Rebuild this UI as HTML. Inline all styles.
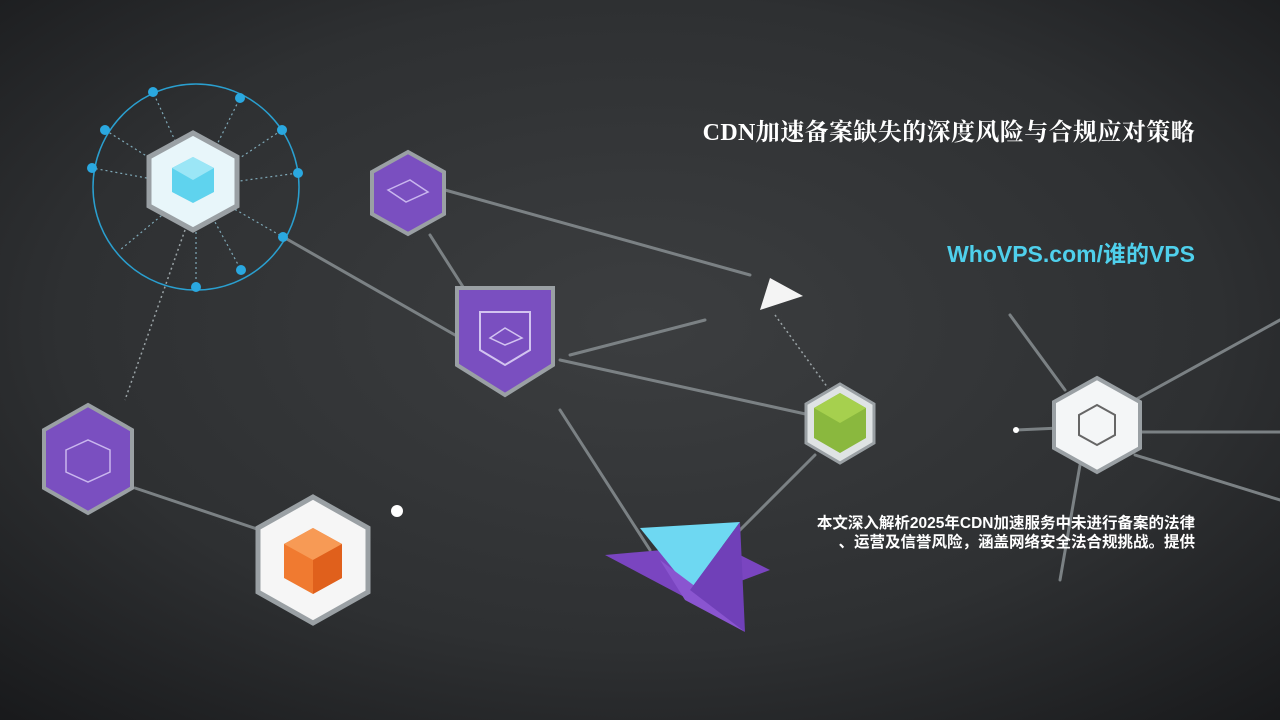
<!DOCTYPE html>
<html><head><meta charset="utf-8"><style>
html,body{margin:0;padding:0;width:1280px;height:720px;overflow:hidden;background:#2a2b2d}
svg{position:absolute;left:0;top:0}
.t{position:absolute;right:85px;white-space:nowrap;text-align:right}
</style></head><body>
<svg width="1280" height="720" viewBox="0 0 1280 720">
<defs>
<radialGradient id="bg" cx="50%" cy="45%" r="75%">
<stop offset="0" stop-color="#3c3e40"/><stop offset="0.6" stop-color="#2e3032"/><stop offset="1" stop-color="#18191b"/>
</radialGradient>
</defs>
<rect width="1280" height="720" fill="url(#bg)"/>
<g stroke="#7b8184" stroke-width="3" fill="none" stroke-linecap="round">
<line x1="285" y1="238" x2="455" y2="335"/>
<line x1="430" y1="235" x2="465" y2="290"/>
<line x1="445" y1="190" x2="750" y2="275"/>
<line x1="570" y1="355" x2="705" y2="320"/>
<line x1="560" y1="360" x2="810" y2="415"/>
<line x1="560" y1="410" x2="650" y2="550"/>
<line x1="735" y1="535" x2="815" y2="455"/>
<line x1="135" y1="488" x2="260" y2="530"/>
<line x1="1010" y1="315" x2="1065" y2="390"/>
<line x1="1135" y1="400" x2="1280" y2="320"/>
<line x1="1140" y1="432" x2="1280" y2="432"/>
<line x1="1135" y1="455" x2="1280" y2="500"/>
<line x1="1080" y1="465" x2="1060" y2="580"/>
<line x1="1015" y1="430" x2="1060" y2="428"/>
</g>
<g stroke="#9aa3a6" stroke-width="1.5" stroke-dasharray="2 3" fill="none">
<line x1="185" y1="230" x2="125" y2="400"/>
<line x1="775" y1="315" x2="828" y2="388"/>
</g>
<g>
<circle cx="196" cy="187" r="103" fill="none" stroke="#2a9fcf" stroke-width="1.5"/>
<g stroke="#7fa9b8" stroke-width="1.2" stroke-dasharray="2 3">
<line x1="196" y1="187" x2="153" y2="92"/><line x1="196" y1="187" x2="240" y2="98"/>
<line x1="196" y1="187" x2="282" y2="130"/><line x1="196" y1="187" x2="298" y2="173"/>
<line x1="196" y1="187" x2="283" y2="237"/><line x1="196" y1="187" x2="241" y2="270"/>
<line x1="196" y1="187" x2="196" y2="287"/><line x1="196" y1="187" x2="120" y2="250"/>
<line x1="196" y1="187" x2="92" y2="168"/><line x1="196" y1="187" x2="105" y2="130"/>
</g>
<g fill="#2aa8e0">
<circle cx="153" cy="92" r="5"/><circle cx="240" cy="98" r="5"/><circle cx="282" cy="130" r="5"/>
<circle cx="298" cy="173" r="5"/><circle cx="283" cy="237" r="5"/><circle cx="241" cy="270" r="5"/>
<circle cx="196" cy="287" r="5"/><circle cx="92" cy="168" r="5"/><circle cx="105" cy="130" r="5"/>
</g>
<polygon points="193,133 237,157 237,206 193,230 149,206 149,157" fill="#e8f6fa" stroke="#9aa0a4" stroke-width="5"/>
<polygon points="193,157 214,168 214,192 193,203 172,192 172,168" fill="#5fd3ee"/>
<polygon points="193,157 214,168 193,180 172,168" fill="#9be6f6"/>
</g>
<polygon points="408,152 444,172 444,214 408,234 372,214 372,172" fill="#7a4fc0" stroke="#9aa0a4" stroke-width="4"/>
<polygon points="388,190 410,180 428,192 406,202" fill="none" stroke="#c9b6ee" stroke-width="1.5"/>
<path d="M457,288 L553,288 L553,365 L505,395 L457,365 Z" fill="#7a4fc0" stroke="#9aa0a4" stroke-width="4"/>
<path d="M480,312 L530,312 L530,350 L505,365 L480,350 Z" fill="none" stroke="#d2c3f0" stroke-width="2"/>
<path d="M490,338 L505,328 L522,338 L505,345 Z" fill="none" stroke="#d2c3f0" stroke-width="1.5"/>
<polygon points="88,405 132,430 132,488 88,513 44,488 44,430" fill="#7a4fc0" stroke="#9aa0a4" stroke-width="4"/>
<polygon points="66,450 88,440 110,450 110,472 88,482 66,472" fill="none" stroke="#c9b6ee" stroke-width="1.5"/>
<polygon points="313,497 368,528 368,592 313,623 258,592 258,528" fill="#f6f6f6" stroke="#9aa0a4" stroke-width="5"/>
<polygon points="313,528 342,544 342,578 313,594 284,578 284,544" fill="#f07a30"/>
<polygon points="313,528 342,544 313,560 284,544" fill="#f79a55"/>
<polygon points="313,560 342,544 342,578 313,594" fill="#e0601c"/>
<circle cx="397" cy="511" r="6" fill="#fff"/>
<polygon points="840,384 874,404 874,443 840,463 806,443 806,404" fill="#dfe3e4" stroke="#9aa0a4" stroke-width="3"/>
<polygon points="840,393 866,408 866,438 840,453 814,438 814,408" fill="#8ab83e"/>
<polygon points="840,393 866,408 840,423 814,408" fill="#a6d04e"/>
<polygon points="1097,378 1140,402 1140,448 1097,472 1054,448 1054,402" fill="#f4f6f7" stroke="#9aa0a4" stroke-width="4"/>
<polygon points="1097,405 1115,415 1115,435 1097,445 1079,435 1079,415" fill="none" stroke="#666" stroke-width="2"/>
<circle cx="1016" cy="430" r="3" fill="#fff"/>
<polygon points="770,278 803,296 760,310" fill="#f4f4f4"/>
<polygon points="605,555 690,600 770,570 720,545" fill="#7a45c0"/>
<polygon points="640,528 740,522 690,590" fill="#6ed8f2"/>
<polygon points="660,560 700,590 745,632 685,600" fill="#8a55d0"/>
<polygon points="690,590 740,522 745,632" fill="#7040b8"/>
</svg>
<div class="t" style="top:112px;font:bold 24px 'Liberation Serif','Noto Serif CJK SC',serif;letter-spacing:0.4px;color:#fff">CDN加速备案缺失的深度风险与合规应对策略</div>
<div class="t" style="top:235px;font:bold 23px 'Liberation Sans','Noto Sans CJK SC',sans-serif;color:#4fd0ec">WhoVPS.com/谁的VPS</div>
<div class="t" style="top:514px;font:bold 15.5px/19px 'Liberation Sans','Noto Sans CJK SC',sans-serif;color:#fff">本文深入解析2025年CDN加速服务中未进行备案的法律<br>、运营及信誉风险，涵盖网络安全法合规挑战。提供</div>
</body></html>
